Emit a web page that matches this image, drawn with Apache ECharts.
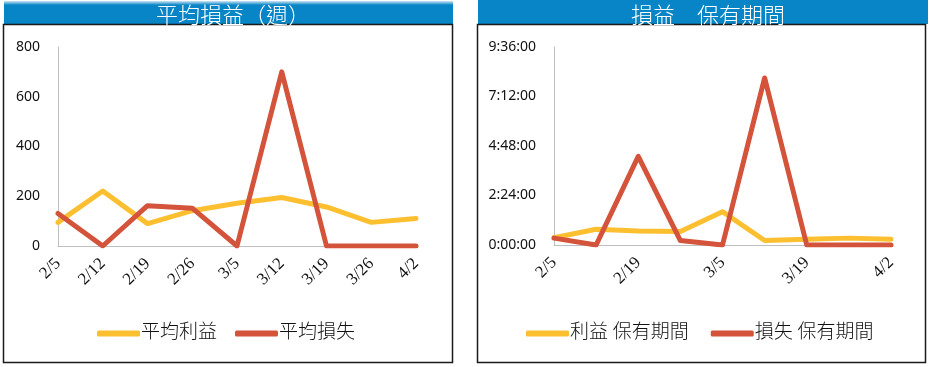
<!DOCTYPE html>
<html>
<head>
<meta charset="utf-8">
<script src="https://cdn.jsdelivr.net/npm/echarts@6/dist/echarts.min.js"></script>
<style>html,body{margin:0;padding:0;background:#fff;}#c{width:931px;height:367px;}</style>
</head>
<body>
<div id="c"></div>
<script>
var categories = ['2/5','2/12','2/19','2/26','3/5','3/12','3/19','3/26','4/2'];
var avgProfit = [95, 221, 90, 142, 172, 195, 157, 95, 111];
var avgLoss = [131, 0, 162, 152, 0, 700, 0, 0, 0];
// holding periods in minutes
var profitHold = [21, 46, 41, 39, 97, 13, 17, 20, 17];
var lossHold = [20, 0, 258, 13, 0, 486, 0, 0, 0];
var leftTicks = [0, 200, 400, 600, 800];
var rightTicks = ['0:00:00','2:24:00','4:48:00','7:12:00','9:36:00'];

var YEL = '#FCBF30', RED = '#D4533B', BLUE = '#0785C6';
function fmtTime(m){ var h=Math.floor(m/60), mm=Math.round(m%60); return h+':'+(mm<10?'0':'')+mm+':00'; }

var chart = echarts.init(document.getElementById('c'), null, {renderer:'canvas'});
var serif = '"Liberation Serif","DejaVu Serif",serif';
var sans = '"Noto Sans","DejaVu Sans",sans-serif';
var cjk = '"Liberation Serif","Noto Sans CJK TC","Noto Sans CJK JP",serif';
var axisLine = {show:true, lineStyle:{color:'#BFBFBF', width:1}};
function lineSeries(name, data, color, xi){
  return {name:name, type:'line', xAxisIndex:xi, yAxisIndex:xi, data:data, symbol:'none',
    lineStyle:{color:color, width:5, cap:'round', join:'round'}, itemStyle:{color:color}, animation:false};
}
chart.setOption({
  animation:false,
  graphic:[
    {type:'rect', z:0, shape:{x:4,y:1,width:449,height:23}, style:{fill:BLUE}},
    {type:'rect', z:0, shape:{x:4,y:1,width:449,height:4}, style:{fill:new echarts.graphic.LinearGradient(0,0,0,1,[{offset:0,color:'#CFE6F4'},{offset:1,color:BLUE}])}},
    {type:'rect', z:0, shape:{x:478,y:0,width:450,height:24}, style:{fill:BLUE}},
    {type:'rect', z:0, shape:{x:3.5,y:24.5,width:449,height:338}, style:{fill:'none', stroke:'#1a1a1a', lineWidth:1.5}},
    {type:'rect', z:0, shape:{x:477.5,y:24.5,width:448,height:338}, style:{fill:'none', stroke:'#1a1a1a', lineWidth:1.5}}
  ],
  title:[
    {text:'平均損益（週）', left:228, top:1, textAlign:'center', textStyle:{color:'#fff', fontSize:22, fontWeight:300, fontFamily:cjk}},
    {text:'損益　保有期間', left:703, top:1, textAlign:'center', textStyle:{color:'#fff', fontSize:22, fontWeight:300, fontFamily:cjk}}
  ],
  legend:[
    {data:['平均利益','平均損失'], left:92, top:319, icon:'roundRect', itemWidth:43, itemHeight:6, itemGap:18,
     textStyle:{fontSize:19, fontWeight:300, fontFamily:cjk, color:'#111', padding:[0,0,0,-4]}},
    {data:['利益 保有期間','損失 保有期間'], left:521, top:319, icon:'roundRect', itemWidth:43, itemHeight:6, itemGap:22,
     textStyle:{fontSize:19, fontWeight:300, fontFamily:cjk, color:'#111', padding:[0,0,0,-4]}}
  ],
  grid:[
    {left:58, right:515, top:47, bottom:121},
    {left:554, right:40, top:47, bottom:122}
  ],
  xAxis:[
    {type:'category', gridIndex:0, data:categories, boundaryGap:false, axisLine:axisLine, axisTick:{show:false},
     axisLabel:{rotate:45, margin:15, fontSize:17, fontFamily:serif, color:'#111', interval:0}},
    {type:'category', gridIndex:1, data:categories, boundaryGap:false, axisLine:axisLine, axisTick:{show:false},
     axisLabel:{rotate:45, margin:15, fontSize:17, fontFamily:serif, color:'#111', interval:1}}
  ],
  yAxis:[
    {type:'value', gridIndex:0, min:leftTicks[0], max:leftTicks[leftTicks.length-1], interval:200, axisLine:axisLine, axisTick:{show:false}, splitLine:{show:false},
     axisLabel:{margin:18, fontSize:14, fontFamily:sans, color:'#111'}},
    {type:'value', gridIndex:1, min:0, max:576, interval:144, axisLine:axisLine, axisTick:{show:false}, splitLine:{show:false},
     axisLabel:{margin:18, fontSize:14, fontFamily:sans, color:'#111', formatter:function(v){ var i=Math.round(v/144); return rightTicks[i]!==undefined?rightTicks[i]:fmtTime(v);}}}
  ],
  series:[
    lineSeries('平均利益', avgProfit, YEL, 0),
    lineSeries('平均損失', avgLoss, RED, 0),
    lineSeries('利益 保有期間', profitHold, YEL, 1),
    lineSeries('損失 保有期間', lossHold, RED, 1)
  ]
});
</script>
</body>
</html>
